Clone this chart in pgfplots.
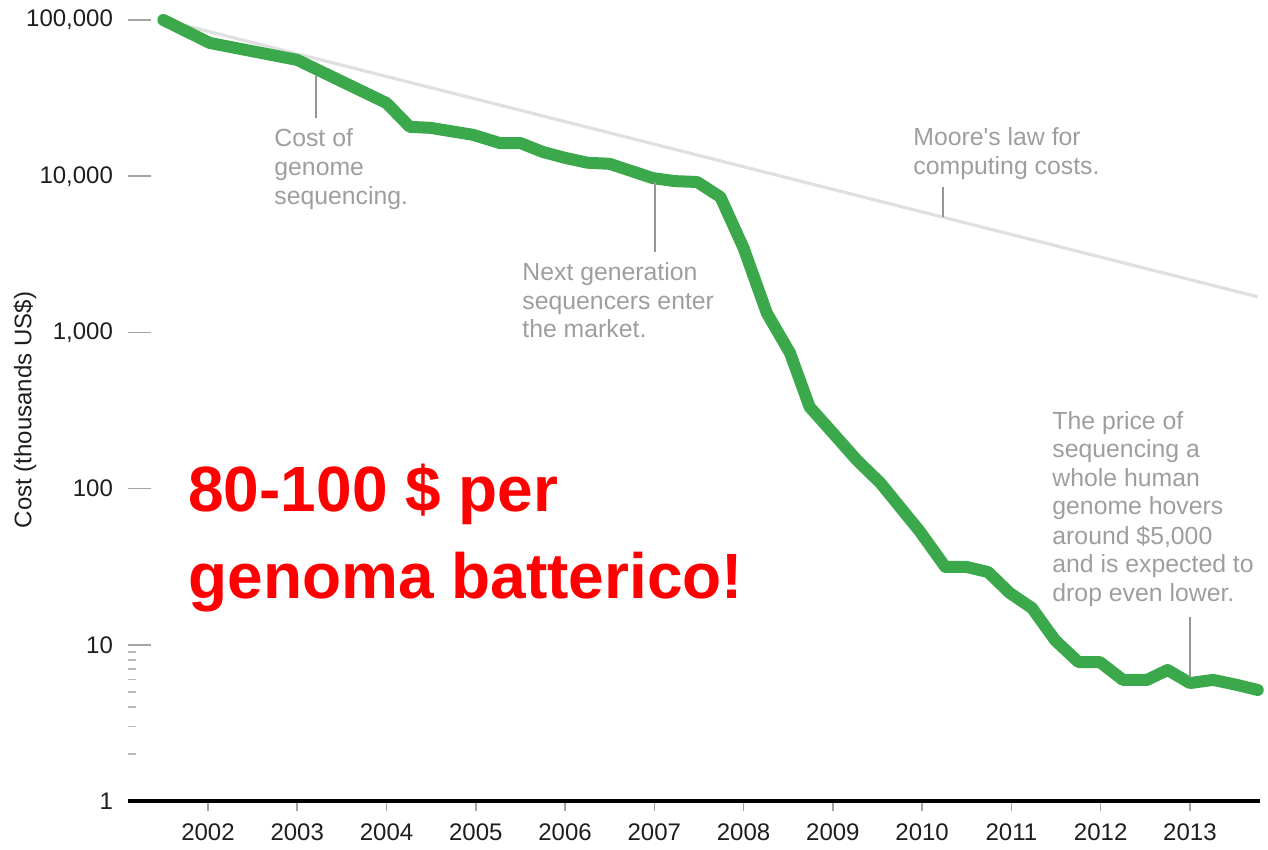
\documentclass[border=0pt]{standalone}
\usepackage{pgfplots}
\pgfplotsset{compat=1.18}
\usepackage{fontspec}
\setmainfont{Liberation Sans}
\definecolor{cgreen}{RGB}{60,168,76}
\definecolor{cmoore}{RGB}{224,224,226}
\definecolor{ctext}{RGB}{158,158,158}
\definecolor{clead}{RGB}{150,150,150}
\definecolor{ctick}{RGB}{165,165,165}
\definecolor{cminor}{RGB}{185,185,185}
\definecolor{clabel}{RGB}{30,30,30}
\newcommand{\px}[2]{({(#1-128)*0.5pt},{(801-#2)*0.5pt})}
\newcommand{\anno}[3]{\node[anchor=base west, inner sep=0pt, text=ctext, font=\fontsize{12.4}{14}\selectfont] at \px{#1}{#2} {#3};}
\pgfplotstableread{
year cost
2001.50 100000
2002.02 71300
2003.00 55500
2004.00 29400
2004.26 20700
2004.49 20400
2004.97 18400
2005.27 16300
2005.50 16300
2005.75 14300
2006.00 13100
2006.25 12200
2006.50 12000
2006.98 9730
2007.23 9300
2007.48 9180
2007.74 7360
2008.00 3470
2008.26 1330
2008.52 738
2008.74 333
2009.00 227
2009.27 152
2009.53 109
2009.97 53.6
2010.26 31.5
2010.50 31.5
2010.74 29.2
2010.98 21.5
2011.23 17.2
2011.49 10.7
2011.75 7.76
2011.99 7.76
2012.25 5.96
2012.52 5.96
2012.75 6.90
2013.00 5.69
2013.26 5.96
2013.53 5.53
2013.76 5.14
}\genome
\pgfplotstableread{
year cost
2001.50 100000
2013.76 1690
}\moore
\begin{document}
\begin{tikzpicture}
\path[use as bounding box] (-64pt,-24.5pt) rectangle (570pt,400.5pt);
\begin{axis}[
  scale only axis, width=566pt, height=390.5pt,
  ymode=log, log basis y=10,
  xmin=2001.104, xmax=2013.785, ymin=1, ymax=100000,
  clip=false,
  axis x line*=bottom, axis y line*=left,
  x axis line style={black, line width=2pt, -},
  y axis line style={draw=none},
  xtick={2002,2003,2004,2005,2006,2007,2008,2009,2010,2011,2012,2013},
  xticklabels={2002,2003,2004,2005,2006,2007,2008,2009,2010,2011,2012,2013},
  tick align=outside, major tick length=5pt,
  xtick style={ctick, line width=0.8pt},
  ytick={1,10,100,1000,10000,100000},
  yticklabels={1,10,100,{1,000},{10,000},{100,000}},
  ytick style={draw=none},
  /pgf/number format/assume math mode=true,
  tick label style={font=\fontsize{12}{14}\selectfont, text=clabel},
  yticklabel style={anchor=east, xshift=1pt},
  xticklabel style={yshift=-3pt},
]
\addplot[cmoore, line width=1.6pt] table[x=year,y=cost] {\moore};
\addplot[cgreen, line width=6pt, line cap=round, line join=round] table[x=year,y=cost] {\genome};
\end{axis}
% y ticks
\foreach \k in {1,...,5} \draw[ctick, line width=0.8pt] (0,{\k*78.1pt}) -- ++(11.5pt,0);
\foreach \m in {2,...,9} \draw[cminor, line width=0.8pt] (0,{log10(\m)*78.1pt}) -- ++(4pt,0);
% y label
\node[rotate=90, text=clabel, font=\fontsize{12}{14}\selectfont] at (-51.5pt,195.5pt) {Cost (thousands US\$)};
% leader lines
\draw[clead, line width=0.8pt] \px{316}{76} -- \px{316}{118};
\draw[clead, line width=0.8pt] \px{655}{182} -- \px{655}{252};
\draw[clead, line width=0.8pt] \px{943}{187} -- \px{943}{217};
\draw[clead, line width=0.8pt] \px{1190}{617} -- \px{1190}{677};
% annotations
\anno{274}{147}{Cost of}
\anno{274}{176}{genome}
\anno{274}{205}{sequencing.}
\anno{522}{281}{Next generation}
\anno{522}{310}{sequencers enter}
\anno{522}{338}{the market.}
\anno{913}{146}{Moore\textquotesingle s law for}
\anno{913}{175}{computing costs.}
\anno{1052}{430}{The price of}
\anno{1052}{458}{sequencing a}
\anno{1052}{487}{whole human}
\anno{1052}{515}{genome hovers}
\anno{1052}{545}{around \$5,000}
\anno{1052}{573}{and is expected to}
\anno{1052}{602}{drop even lower.}
% red text
\node[anchor=base west, inner sep=0pt, text=red, font=\bfseries\fontsize{32}{43}\selectfont] at \px{188}{512} {80-100 \$ per};
\node[anchor=base west, inner sep=0pt, text=red, font=\bfseries\fontsize{32}{43}\selectfont] at \px{188}{599} {genoma batterico!};
\end{tikzpicture}
\end{document}
